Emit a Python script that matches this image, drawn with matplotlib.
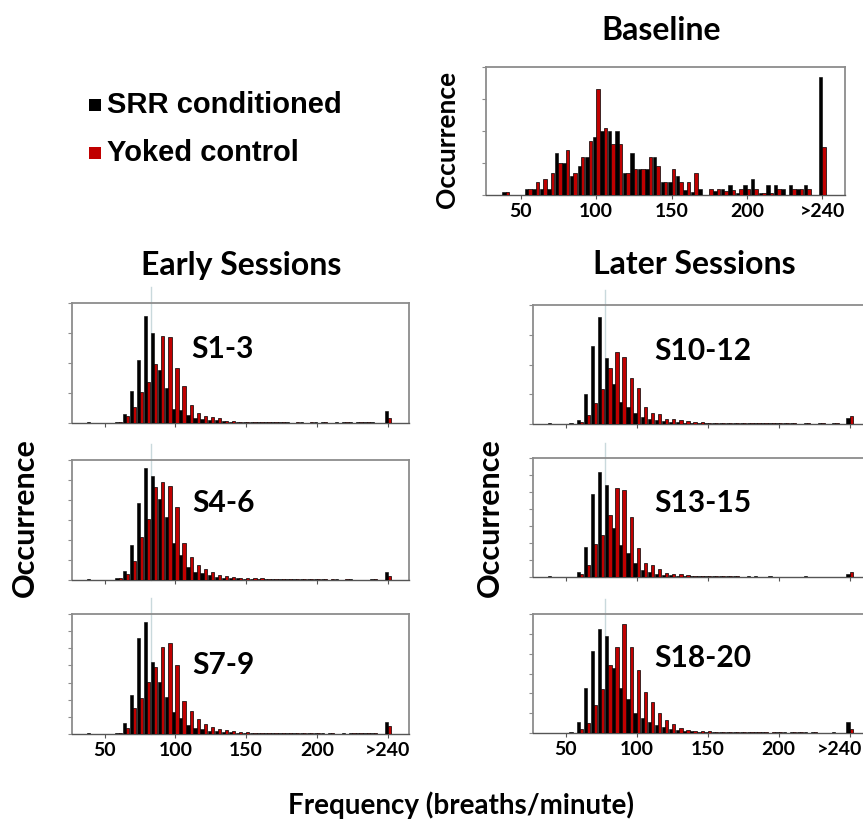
import matplotlib
matplotlib.use("Agg")
import matplotlib.pyplot as plt
from matplotlib.patches import Rectangle
from matplotlib.lines import Line2D
import numpy as np

plt.rcParams['font.family'] = ['Lato', 'DejaVu Sans']

# ---------------- data ----------------
bins = [35, 40, 45, 50, 55, 60, 65, 70, 75, 80, 85, 90, 95, 100, 105, 110, 115, 120,
        125, 130, 135, 140, 145, 150, 155, 160, 165, 170, 175, 180, 185, 190, 195, 200,
        205, 210, 215, 220, 225, 230, 235, 240]
over_pos = 250          # position of the ">240" category
tick_values = [50, 100, 150, 200, 250]
tick_labels = ["50", "100", "150", "200", ">240"]

baseline_srr = [0, 0.08, 0, 0, 0.18, 0.18, 0.18, 0.2, 1.3, 1.0, 0.6, 0.9, 1.2, 1.8, 2.0, 2.0, 2.0, 0.7,
                1.3, 0.8, 0.8, 1.2, 0.4, 0.4, 0.6, 0.16, 0.08, 0.18, 0, 0.13, 0.2, 0.3, 0.05, 0.3,
                0.5, 0.07, 0.3, 0.3, 0.18, 0.3, 0.2, 0.3]
baseline_srr_over = 3.69
baseline_yok = [0, 0.08, 0, 0, 0.18, 0.4, 0.5, 0.7, 1.0, 1.4, 0.7, 1.2, 1.7, 3.3, 2.1, 1.6, 1.6, 0.7,
                0.8, 0.8, 1.2, 0.9, 0.4, 0.8, 0.4, 0.4, 0.7, 0, 0.2, 0.2, 0.13, 0.15, 0.2, 0.2,
                0.2, 0.07, 0.05, 0.18, 0, 0.18, 0.2, 0.18]
baseline_yok_over = 1.49

s1_3_srr = [0, 0.02, 0.01, 0, 0.01, 0.05, 0.30, 1.06, 2.11, 3.58, 3.0, 1.78, 1.17, 0.47, 0.44, 0.28, 0.17, 0.13,
            0.11, 0.09, 0.07, 0.05, 0.04, 0.03, 0.03, 0.02, 0.03, 0.02, 0.02, 0.02, 0.01, 0.02, 0.01, 0.02,
            0.02, 0.01, 0.02, 0.02, 0.02, 0.03, 0.02, 0.02]
s1_3_srr_over = 0.41
s1_3_yok = [0, 0.01, 0, 0, 0, 0.03, 0.22, 0.53, 1.02, 1.36, 1.98, 2.89, 2.87, 1.83, 1.24, 0.61, 0.33, 0.24,
            0.2, 0.17, 0.08, 0.06, 0.05, 0.04, 0.03, 0.03, 0.02, 0.02, 0.02, 0.01, 0.02, 0.01, 0.02, 0.01,
            0.02, 0.01, 0.01, 0.02, 0.01, 0.02, 0.02, 0.01]
s1_3_yok_over = 0.17

s4_6_srr = [0, 0.03, 0.02, 0, 0.02, 0.08, 0.47, 1.75, 3.87, 5.62, 5.22, 4.03, 3.17, 1.83, 1.25, 0.67, 0.42, 0.33,
            0.23, 0.17, 0.12, 0.1, 0.08, 0.07, 0.06, 0.05, 0.04, 0.03, 0.04, 0.03, 0.03, 0.04, 0.03, 0.04,
            0.03, 0.02, 0.03, 0.02, 0.03, 0.02, 0.02, 0.03]
s4_6_srr_over = 0.38
s4_6_yok = [0, 0.02, 0, 0, 0.01, 0.1, 0.3, 0.97, 2.13, 3.03, 4.67, 4.92, 4.72, 3.63, 1.83, 1.13, 0.75, 0.53,
            0.38, 0.23, 0.2, 0.15, 0.12, 0.1, 0.08, 0.09, 0.07, 0.05, 0.04, 0.04, 0.05, 0.04, 0.03, 0.04,
            0.03, 0.03, 0.02, 0.03, 0.02, 0.02, 0.02, 0.03]
s4_6_yok_over = 0.2

s7_9_srr = [0, 0.03, 0.02, 0, 0.02, 0.08, 0.62, 2.28, 5.58, 6.56, 4.22, 3.05, 2.18, 1.3, 0.91, 0.53, 0.37, 0.29,
            0.2, 0.18, 0.12, 0.1, 0.08, 0.06, 0.05, 0.05, 0.04, 0.04, 0.03, 0.04, 0.03, 0.04, 0.03, 0.03,
            0.04, 0.03, 0.02, 0.03, 0.05, 0.06, 0.05, 0.04]
s7_9_srr_over = 0.68
s7_9_yok = [0, 0.02, 0, 0, 0.01, 0.05, 0.37, 1.5, 2.08, 3.02, 3.93, 5.1, 5.33, 4.03, 1.95, 1.36, 0.88, 0.58,
            0.39, 0.29, 0.23, 0.2, 0.12, 0.1, 0.08, 0.07, 0.06, 0.05, 0.04, 0.04, 0.03, 0.03, 0.03, 0.03,
            0.02, 0.03, 0.02, 0.02, 0.03, 0.04, 0.03, 0.03]
s7_9_yok_over = 0.48

s10_12_srr = [0, 0.02, 0.01, 0, 0.02, 0.13, 1.0, 2.63, 3.6, 2.23, 1.34, 0.75, 0.56, 0.36, 0.22, 0.17, 0.13, 0.1,
              0.08, 0.06, 0.05, 0.04, 0.04, 0.03, 0.03, 0.02, 0.03, 0.02, 0.02, 0.02, 0.02, 0.03, 0.02, 0.02,
              0.02, 0.02, 0.01, 0.02, 0.01, 0.02, 0.01, 0.02]
s10_12_srr_over = 0.2
s10_12_yok = [0, 0, 0, 0, 0, 0.08, 0.3, 0.72, 1.16, 1.87, 2.43, 2.26, 1.56, 1.2, 0.56, 0.36, 0.32, 0.17,
              0.17, 0.14, 0.1, 0.07, 0.06, 0.05, 0.04, 0.04, 0.03, 0.05, 0.03, 0.03, 0.04, 0.05, 0.02, 0.02,
              0.02, 0.02, 0.01, 0.02, 0.01, 0.02, 0.01, 0.02]
s10_12_yok_over = 0.28

s13_15_srr = [0, 0.03, 0.02, 0, 0.02, 0.31, 1.78, 4.88, 6.2, 5.41, 2.86, 1.88, 1.39, 0.8, 0.41, 0.31, 0.18, 0.14,
              0.1, 0.08, 0.06, 0.05, 0.05, 0.04, 0.03, 0.03, 0.03, 0.03, 0.02, 0.03, 0.03, 0.02, 0.03, 0.02,
              0.02, 0.02, 0.02, 0.03, 0.02, 0.01, 0.01, 0.02]
s13_15_srr_over = 0.2
s13_15_yok = [0, 0, 0, 0, 0, 0.2, 0.7, 1.94, 2.47, 3.65, 5.22, 5.12, 3.51, 1.69, 0.8, 0.7, 0.45, 0.25,
              0.2, 0.15, 0.1, 0.08, 0.06, 0.05, 0.04, 0.03, 0.03, 0.03, 0.02, 0.02, 0.02, 0.02, 0.01, 0.02,
              0.01, 0.01, 0.01, 0.01, 0.01, 0.01, 0.01, 0.01]
s13_15_yok_over = 0.31

s18_20_srr = [0, 0.02, 0.02, 0.02, 0.05, 0.57, 2.26, 4.15, 5.24, 4.9, 3.3, 2.29, 1.7, 1.0, 0.78, 0.57, 0.4, 0.3,
              0.2, 0.15, 0.1, 0.1, 0.07, 0.05, 0.05, 0.05, 0.04, 0.04, 0.03, 0.04, 0.03, 0.03, 0.02, 0.03,
              0.03, 0.04, 0.03, 0.04, 0.03, 0.02, 0.02, 0.03]
s18_20_srr_over = 0.54
s18_20_yok = [0, 0, 0, 0, 0.02, 0.19, 0.52, 1.42, 2.21, 3.43, 4.32, 5.5, 4.35, 3.2, 2.06, 1.55, 1.0, 0.67,
              0.44, 0.27, 0.17, 0.12, 0.1, 0.08, 0.07, 0.06, 0.05, 0.04, 0.04, 0.03, 0.03, 0.03, 0.03, 0.03,
              0.02, 0.03, 0.03, 0.02, 0.03, 0.02, 0.02, 0.02]
s18_20_yok_over = 0.2

# --------------- layout ---------------
W, H = 863, 824
fig = plt.figure(figsize=(W / 100, H / 100), dpi=100)

def rect(left, top, right, bottom):
    return [left / W, 1 - bottom / H, (right - left) / W, (bottom - top) / H]

def fx(x):
    return x / W

def fy(y):
    return 1 - y / H

BLACK = "#000000"
RED = "#c00000"
FRAME = "#8c8c8c"
BW = 2.3

def panel(pos, srr, srr_over, yok, yok_over, ymax, label=None, label_xy=None,
          show_xlabels=False, vline=None, last_shift=0):
    ax = fig.add_axes(rect(*pos))
    xs = np.array(bins + [over_pos], dtype=float)
    a = list(srr) + [srr_over]
    b = list(yok) + [yok_over]
    ax.bar(xs - BW / 2, a, width=BW, color=BLACK, edgecolor=BLACK, linewidth=0.4, zorder=3)
    ax.bar(xs + BW / 2, b, width=BW, color=RED, edgecolor=BLACK, linewidth=0.5, zorder=3)
    ax.set_xlim(27, 265)
    ax.set_ylim(0, ymax)
    ax.set_yticks(range(0, ymax + 1))
    ax.set_yticklabels([])
    ax.set_xticks(tick_values)
    if show_xlabels:
        labels = list(tick_labels)
        if last_shift:
            labels[-1] = ""
            ax.annotate(tick_labels[-1], xy=(tick_values[-1], 0),
                        xycoords=("data", "axes fraction"),
                        xytext=(last_shift, -6), textcoords="offset points",
                        ha="center", va="top", fontsize=14, fontweight="bold")
        ax.set_xticklabels(labels, fontsize=14, fontweight="bold")
    else:
        ax.set_xticklabels([])
    ax.tick_params(axis="y", direction="out", length=3, width=0.8, color=FRAME, pad=1)
    ax.tick_params(axis="x", direction="out", length=3, width=0.8, color="#555555", pad=3)
    for side in ["top", "right", "left"]:
        ax.spines[side].set_color(FRAME)
        ax.spines[side].set_linewidth(1.3)
    ax.spines["bottom"].set_color("#555555")
    ax.spines["bottom"].set_linewidth(1.0)
    if vline is not None:
        ln = Line2D([vline, vline], [0, 1.13], transform=ax.get_xaxis_transform(),
                    color="#c9d9dc", linewidth=1.0, clip_on=False, zorder=1)
        ax.add_line(ln)
    if label:
        fig.text(fx(label_xy[0]), fy(label_xy[1]), label, fontsize=21.5, fontweight="bold",
                 ha="center", va="center")
    return ax

# baseline
panel((486, 67, 845, 195), baseline_srr, baseline_srr_over, baseline_yok, baseline_yok_over, 4,
      show_xlabels=True)

# early sessions
EL, ER = 72, 409
panel((EL, 303, ER, 423), s1_3_srr, s1_3_srr_over, s1_3_yok, s1_3_yok_over, 4,
      label="S1-3", label_xy=(222, 349), vline=83)
panel((EL, 460, ER, 580), s4_6_srr, s4_6_srr_over, s4_6_yok, s4_6_yok_over, 6,
      label="S4-6", label_xy=(223, 503), vline=83)
panel((EL, 614, ER, 734), s7_9_srr, s7_9_srr_over, s7_9_yok, s7_9_yok_over, 7,
      label="S7-9", label_xy=(223, 665), show_xlabels=True, vline=83)

# later sessions (right edge runs past the figure, as in the reference crop)
LL, LR = 533, 871
panel((LL, 305, LR, 424), s10_12_srr, s10_12_srr_over, s10_12_yok, s10_12_yok_over, 4,
      label="S10-12", label_xy=(703, 351), vline=78)
panel((LL, 458, LR, 577), s13_15_srr, s13_15_srr_over, s13_15_yok, s13_15_yok_over, 7,
      label="S13-15", label_xy=(703, 503), vline=78)
panel((LL, 614, LR, 733), s18_20_srr, s18_20_srr_over, s18_20_yok, s18_20_yok_over, 6,
      label="S18-20", label_xy=(703, 658), show_xlabels=True, vline=78, last_shift=-7)

# titles and axis texts
fig.text(fx(661), fy(31), "Baseline", fontsize=23, fontweight="bold", ha="center", va="center")
fig.text(fx(241), fy(265), "Early Sessions", fontsize=23, fontweight="bold", ha="center", va="center")
fig.text(fx(694), fy(265), "Later Sessions", fontsize=23, fontweight="bold", ha="center", va="center")
fig.text(fx(461), fy(805), "Frequency (breaths/minute)", fontsize=20, fontweight="bold",
         ha="center", va="center")
fig.text(fx(447), fy(139), "Occurrence", fontsize=19, fontweight="bold", rotation=90,
         ha="center", va="center")
fig.text(fx(25), fy(518), "Occurrence", fontsize=22, fontweight="bold", rotation=90,
         ha="center", va="center")
fig.text(fx(490), fy(518), "Occurrence", fontsize=22, fontweight="bold", rotation=90,
         ha="center", va="center")

# legend
for (y, col, txt) in [(105, BLACK, "SRR conditioned"), (153, RED, "Yoked control")]:
    fig.patches.append(Rectangle((fx(89), fy(y + 6)), 12 / W, 12 / H, transform=fig.transFigure,
                                 facecolor=col, edgecolor="none"))
    fig.text(fx(107), fy(y), txt, fontsize=21, fontweight="bold", ha="left", va="center",
             family=["Liberation Sans", "DejaVu Sans"])

fig.savefig("out.png", dpi=100)
